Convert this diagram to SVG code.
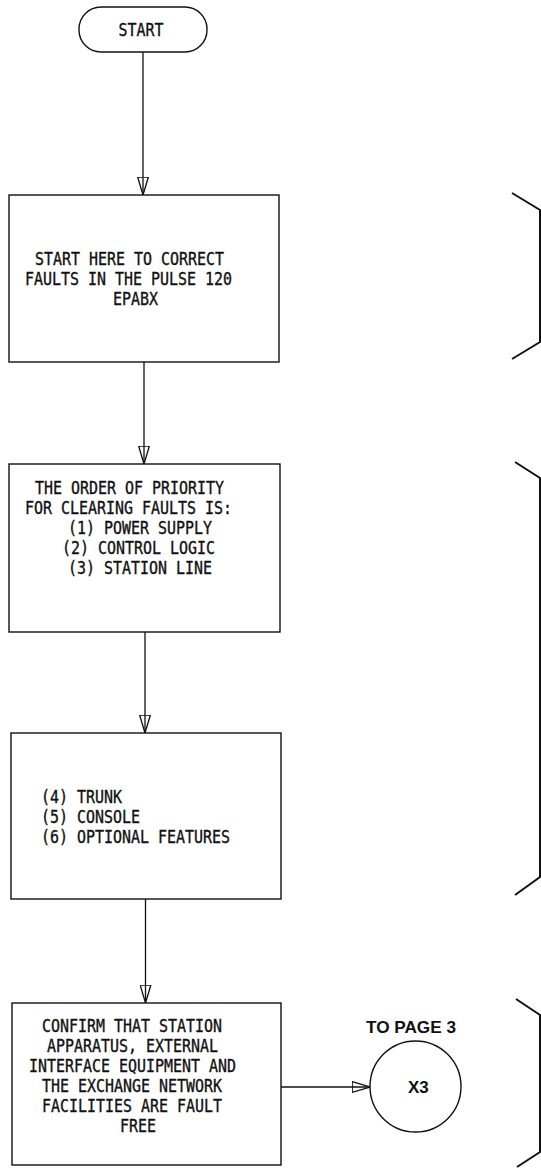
<svg xmlns="http://www.w3.org/2000/svg" width="541" height="1168" viewBox="0 0 541 1168">
  <style>
    .box { fill: #fff; stroke: #111; stroke-width: 1.4; }
    .edge { fill: none; stroke: #111; stroke-width: 1.3; }
    .brk { fill: none; stroke: #111; stroke-width: 2; }
    .t { font-family: "DejaVu Sans Mono", "Liberation Mono", monospace; font-size: 17px; fill: #111; stroke: #111; stroke-width: 0.35; }
    .b { font-family: "Liberation Sans", Arial, sans-serif; font-size: 17px; font-weight: bold; fill: #111; }
  </style>
  <defs>
    <marker id="open" viewBox="0 0 19 12" refX="18.5" refY="6" markerWidth="19" markerHeight="12" markerUnits="userSpaceOnUse" orient="auto">
      <path d="M0.7,0.7 L18.5,6 L0.7,11.3 Z" fill="none" stroke="#111" stroke-width="1.3"/>
    </marker>
  </defs>
  <rect width="541" height="1168" fill="#fff"/>

  <!-- connectors -->
  <g id="connectors">
    <line class="edge" x1="143" y1="52" x2="143" y2="195" marker-end="url(#open)"/>
    <line class="edge" x1="144" y1="362" x2="144" y2="464" marker-end="url(#open)"/>
    <line class="edge" x1="145" y1="632" x2="145" y2="733" marker-end="url(#open)"/>
    <line class="edge" x1="145.5" y1="899" x2="145.5" y2="1003" marker-end="url(#open)"/>
    <line class="edge" x1="281" y1="1087" x2="370" y2="1087" marker-end="url(#open)"/>
  </g>

  <!-- start terminal -->
  <g id="start">
    <rect class="box" x="79" y="7" width="128" height="45" rx="22" ry="22"/>
    <text class="t" x="118.5" y="36" textLength="45" lengthAdjust="spacingAndGlyphs">START</text>
  </g>

  <g id="step1">
    <rect class="box" x="9" y="195" width="270" height="167"/>
    <text class="t" x="35" y="265" textLength="189" lengthAdjust="spacingAndGlyphs">START HERE TO CORRECT</text>
    <text class="t" x="25" y="285" textLength="207" lengthAdjust="spacingAndGlyphs">FAULTS IN THE PULSE 120</text>
    <text class="t" x="113" y="305" textLength="45" lengthAdjust="spacingAndGlyphs">EPABX</text>
  </g>

  <g id="step2">
    <rect class="box" x="9" y="464" width="271" height="168"/>
    <text class="t" x="35" y="494" textLength="189" lengthAdjust="spacingAndGlyphs">THE ORDER OF PRIORITY</text>
    <text class="t" x="25" y="514" textLength="207" lengthAdjust="spacingAndGlyphs">FOR CLEARING FAULTS IS:</text>
    <text class="t" x="68" y="534" textLength="144" lengthAdjust="spacingAndGlyphs">(1) POWER SUPPLY</text>
    <text class="t" x="62" y="554" textLength="153" lengthAdjust="spacingAndGlyphs">(2) CONTROL LOGIC</text>
    <text class="t" x="68" y="574" textLength="144" lengthAdjust="spacingAndGlyphs">(3) STATION LINE</text>
  </g>

  <g id="step3">
    <rect class="box" x="11" y="733" width="270" height="166"/>
    <text class="t" x="41" y="803" textLength="81" lengthAdjust="spacingAndGlyphs">(4) TRUNK</text>
    <text class="t" x="41" y="823" textLength="99" lengthAdjust="spacingAndGlyphs">(5) CONSOLE</text>
    <text class="t" x="41" y="843" textLength="189" lengthAdjust="spacingAndGlyphs">(6) OPTIONAL FEATURES</text>
  </g>

  <g id="step4">
    <rect class="box" x="12" y="1003" width="269" height="162"/>
    <text class="t" x="42" y="1032" textLength="180" lengthAdjust="spacingAndGlyphs">CONFIRM THAT STATION</text>
    <text class="t" x="47" y="1052" textLength="171" lengthAdjust="spacingAndGlyphs">APPARATUS, EXTERNAL</text>
    <text class="t" x="29" y="1072" textLength="207" lengthAdjust="spacingAndGlyphs">INTERFACE EQUIPMENT AND</text>
    <text class="t" x="42" y="1092" textLength="180" lengthAdjust="spacingAndGlyphs">THE EXCHANGE NETWORK</text>
    <text class="t" x="42" y="1112" textLength="180" lengthAdjust="spacingAndGlyphs">FACILITIES ARE FAULT</text>
    <text class="t" x="120" y="1132" textLength="36" lengthAdjust="spacingAndGlyphs">FREE</text>
  </g>

  <g id="offpage-x3">
    <text class="b" x="366" y="1033" textLength="90" lengthAdjust="spacingAndGlyphs">TO PAGE 3</text>
    <circle class="box" cx="415.5" cy="1086.5" r="45.5"/>
    <text class="b" x="408" y="1093">X3</text>
  </g>

  <!-- brace marks along the right margin -->
  <g id="margin-braces">
    <polyline class="brk" points="512,193 540,210 540,342 512,359"/>
    <polyline class="brk" points="515,462 540,478 540,877 515,895"/>
    <polyline class="brk" points="516,999 540,1015 540,1152 517,1167"/>
  </g>
</svg>
